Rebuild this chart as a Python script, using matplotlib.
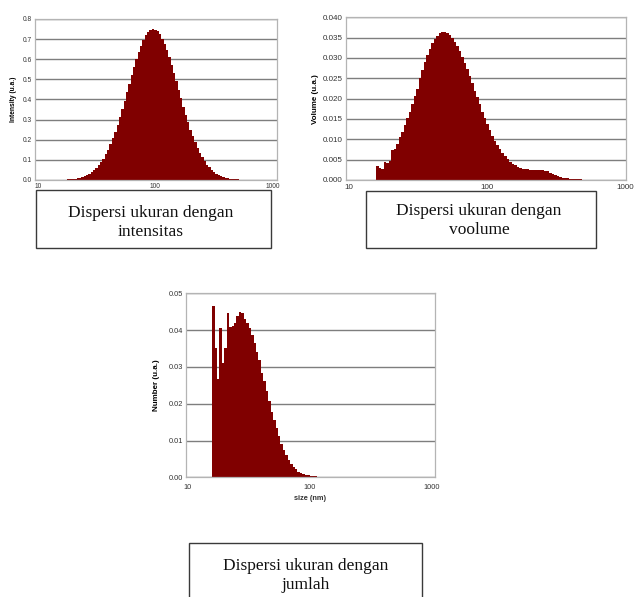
import numpy as np
import matplotlib
matplotlib.use("Agg")
import matplotlib.pyplot as plt
from matplotlib.patches import Rectangle
from matplotlib.ticker import FixedLocator, FixedFormatter

# ---------------- data ----------------
# size classes: log-spaced bins (first edge in nm, bins per decade)
INT_FIRST_EDGE_NM = 15.5
INT_BINS_PER_DECADE = 50
intensity = [
    0.0009, 0.0013, 0.0018, 0.0025, 0.0034, 0.0046, 0.0062, 0.0082, 0.0108, 0.0142,
    0.0183, 0.0235, 0.0300, 0.0379, 0.0474, 0.0587, 0.0722, 0.0880, 0.1063, 0.1274,
    0.1511, 0.1779, 0.2075, 0.2401, 0.2753, 0.3128, 0.3524, 0.3936, 0.4358, 0.4783,
    0.5204, 0.5612, 0.5999, 0.6358, 0.6680, 0.6957, 0.7182, 0.7350, 0.7457, 0.7499,
    0.7477, 0.7389, 0.7238, 0.7030, 0.6768, 0.6459, 0.6110, 0.5731, 0.5327, 0.4910,
    0.4485, 0.4062, 0.3647, 0.3245, 0.2863, 0.2504, 0.2171, 0.1866, 0.1589, 0.1342,
    0.1123, 0.0932, 0.0767, 0.0625, 0.0506, 0.0405, 0.0322, 0.0254, 0.0198, 0.0153,
    0.0118, 0.0089, 0.0067, 0.0050, 0.0037, 0.0027, 0.0020, 0.0014, 0.0010, 0.0007,
]

VOL_FIRST_EDGE_NM = 15.7
VOL_BINS_PER_DECADE = 55
volume = [
    0.0034, 0.0030, 0.0027, 0.0044, 0.0041, 0.0047, 0.0073, 0.0076, 0.0088, 0.0105,
    0.0118, 0.0135, 0.0152, 0.0168, 0.0186, 0.0206, 0.0224, 0.0250, 0.0270, 0.0290,
    0.0307, 0.0322, 0.0336, 0.0346, 0.0355, 0.0361, 0.0364, 0.0364, 0.0362, 0.0357,
    0.0349, 0.0340, 0.0330, 0.0318, 0.0303, 0.0288, 0.0272, 0.0256, 0.0238, 0.0220,
    0.0203, 0.0186, 0.0168, 0.0152, 0.0137, 0.0122, 0.0108, 0.0096, 0.0085, 0.0075,
    0.0066, 0.0058, 0.0051, 0.0045, 0.0040, 0.0036, 0.0033, 0.0030, 0.0028, 0.0027,
    0.0026, 0.0025, 0.0025, 0.0025, 0.0025, 0.0025, 0.0024, 0.0023, 0.0021, 0.0018,
    0.0015, 0.0012, 0.0011, 0.0008, 0.0006, 0.0005, 0.0004, 0.0003, 0.0003, 0.0002,
    0.0002, 0.0002, 0.0001, 0.0001, 0.0001, 0.00005, 0.00005,
]

NUM_FIRST_EDGE_NM = 15.85
NUM_BINS_PER_DECADE = 50
number = [
    0.0466, 0.0352, 0.0267, 0.0407, 0.0310, 0.0351, 0.0447, 0.0408, 0.0410, 0.0420,
    0.0438, 0.0449, 0.0446, 0.0430, 0.0419, 0.0407, 0.0387, 0.0364, 0.0340, 0.0319,
    0.0283, 0.0261, 0.0235, 0.0206, 0.0178, 0.0156, 0.0133, 0.0111, 0.0091, 0.0074,
    0.0061, 0.0047, 0.0036, 0.0027, 0.0022, 0.0015, 0.0012, 0.0009, 0.0007, 0.0005,
    0.0004, 0.0003, 0.0003, 0.0002, 0.0002, 0.0001, 0.0001, 0.0001, 0.00005, 0.00005,
    0.00003, 0.00002, 0.00001,
]

x_ticks = [10, 100, 1000]
x_tick_labels = ["10", "100", "1000"]
int_y_ticks = [0.0, 0.1, 0.2, 0.3, 0.4, 0.5, 0.6, 0.7, 0.8]
vol_y_ticks = [0.000, 0.005, 0.010, 0.015, 0.020, 0.025, 0.030, 0.035, 0.040]
num_y_ticks = [0.00, 0.01, 0.02, 0.03, 0.04, 0.05]

captions = [
    "Dispersi ukuran dengan\nintensitas",
    "Dispersi ukuran dengan\nvoolume",
    "Dispersi ukuran dengan\njumlah",
]
ylabels = ["Intensity (u.a.)", "Volume (u.a.)", "Number (u.a.)"]
xlabel_num = "size (nm)"

# ---------------- drawing ----------------
BAR = "#800000"
GRID = "#7e7e7e"
SPINE = "#b4b4b4"

plt.rcParams["font.family"] = ["Liberation Sans", "DejaVu Sans"]

fig = plt.figure(figsize=(6.35, 5.97), dpi=100)


def edges(first, bpd, n):
    return first * 10 ** (np.arange(n + 1) / bpd)


def style(ax, yt, fmt, xlim, tick_fs, ylabel, ylab_fs, ylabpad, xpad):
    ax.set_xscale("log")
    ax.set_xlim(*xlim)
    ax.set_ylim(yt[0], yt[-1])
    ax.xaxis.set_major_locator(FixedLocator(x_ticks))
    ax.xaxis.set_major_formatter(FixedFormatter(x_tick_labels))
    ax.xaxis.set_minor_locator(FixedLocator([]))
    ax.set_yticks(yt)
    ax.set_yticklabels([fmt % v for v in yt])
    ax.tick_params(axis="both", length=0, labelsize=tick_fs, colors="#333333")
    ax.tick_params(axis="x", pad=xpad)
    ax.tick_params(axis="y", pad=2)
    ax.set_axisbelow(True)
    ax.grid(axis="y", color=GRID, lw=1.0)
    ax.grid(axis="x", visible=False)
    for s in ax.spines.values():
        s.set_color(SPINE)
        s.set_linewidth(0.9)
    ax.set_ylabel(ylabel, fontsize=ylab_fs, fontweight="bold", labelpad=ylabpad)


# Intensity
ax1 = fig.add_axes([0.0546, 0.6985, 0.3811, 0.2697])
e1 = edges(INT_FIRST_EDGE_NM, INT_BINS_PER_DECADE, len(intensity))
ax1.stairs(intensity, e1, fill=True, color=BAR, lw=0)
style(ax1, int_y_ticks, "%.1f", (9.43, 1075), 4.8, ylabels[0], 4.8, 4, 2)

# Volume
ax2 = fig.add_axes([0.5444, 0.6985, 0.4414, 0.2725])
e2 = edges(VOL_FIRST_EDGE_NM, VOL_BINS_PER_DECADE, len(volume))
ax2.stairs(volume, e2, fill=True, color=BAR, lw=0)
style(ax2, vol_y_ticks, "%.3f", (9.46, 1017), 5.8, ylabels[1], 5.8, 3, 3)

# Number
ax3 = fig.add_axes([0.2924, 0.2005, 0.3926, 0.3082])
e3 = edges(NUM_FIRST_EDGE_NM, NUM_BINS_PER_DECADE, len(number))
ax3.stairs(number, e3, fill=True, color=BAR, lw=0)
style(ax3, num_y_ticks, "%.2f", (9.63, 1064), 5.3, ylabels[2], 5.8, 6, 5)
ax3.set_xlabel(xlabel_num, fontsize=5.3, fontweight="bold", labelpad=3, color="#333333")

# Caption boxes
boxes = [
    (0.0567, 0.5841, 0.3696, 0.0977),
    (0.5759, 0.5841, 0.3622, 0.0965),
    (0.2976, -0.05, 0.3669, 0.14),
]
text_pos = [(0.2370, 0.6276), (0.7543, 0.6307), (0.4816, 0.0360)]
for (bx, by, bw, bh), (tx, ty), cap in zip(boxes, text_pos, captions):
    fig.patches.append(Rectangle((bx, by), bw, bh, transform=fig.transFigure,
                                 fill=False, edgecolor="#3a3a3a", lw=1.0))
    fig.text(tx, ty, cap, ha="center", va="center", fontsize=12.5,
             family=["Liberation Serif", "DejaVu Serif"], color="#111111",
             linespacing=1.2)

fig.savefig("out.png", dpi=100)
